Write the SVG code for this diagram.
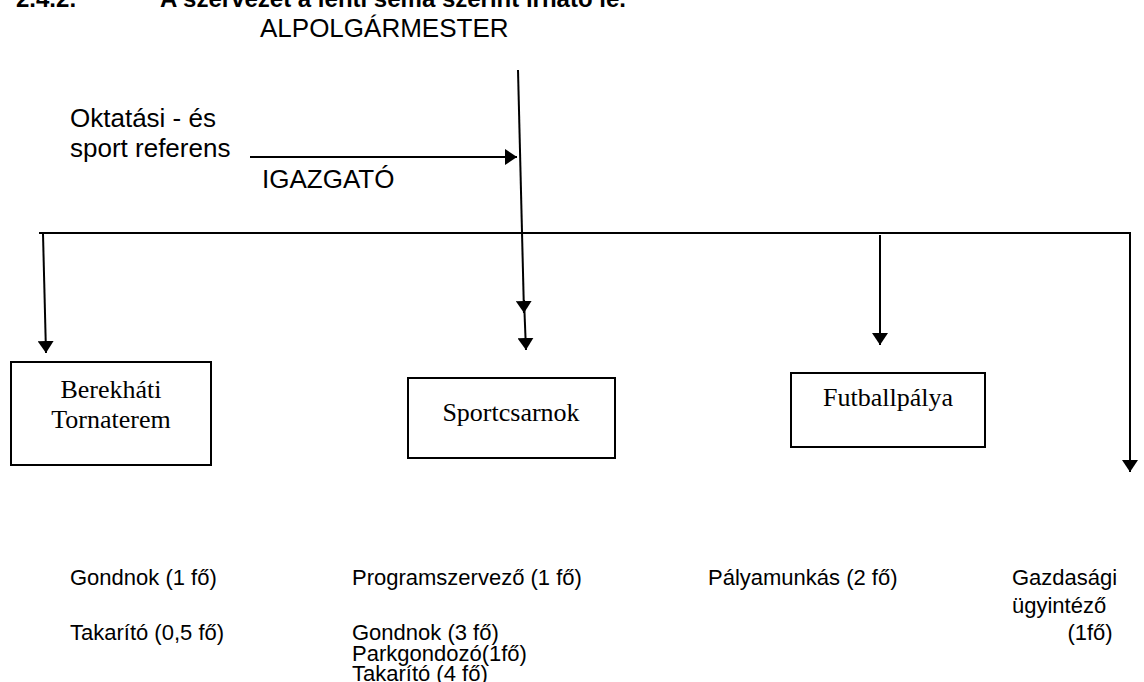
<svg xmlns="http://www.w3.org/2000/svg" width="1144" height="682" viewBox="0 0 1144 682">
<defs>
<marker id="ah" viewBox="0 0 12 16" refX="12" refY="8" markerWidth="12" markerHeight="16" markerUnits="userSpaceOnUse" orient="auto">
<path d="M0,0 L12,8 L0,16 Z" fill="#000"/>
</marker>
</defs>
<style>
.s{font-family:"Liberation Sans",Arial,sans-serif;font-size:26px;fill:#000}
.b{font-family:"Liberation Sans",Arial,sans-serif;font-size:22px;fill:#000}
.t{font-family:"Liberation Serif","Times New Roman",serif;font-size:26px;fill:#000}
.h{font-family:"Liberation Sans",Arial,sans-serif;font-size:24px;font-weight:bold;fill:#000}
.box{fill:#fff;stroke:#000;stroke-width:2}
.ln{stroke:#000;stroke-width:2;fill:none}
</style>
<rect width="1144" height="682" fill="#fff"/>
<text class="h" x="16" y="7">2.4.2.</text>
<text class="h" x="160" y="7">A szervezet a lenti séma szerint írható le.</text>
<g id="connectors">
<line class="ln" x1="518" y1="70" x2="524" y2="313" marker-end="url(#ah)"/>
<line class="ln" x1="524" y1="300" x2="526" y2="350" marker-end="url(#ah)"/>
<line class="ln" x1="250" y1="157" x2="517" y2="157" marker-end="url(#ah)"/>
<line class="ln" x1="39" y1="233" x2="1131" y2="233"/>
<line class="ln" x1="43" y1="234" x2="46" y2="353" marker-end="url(#ah)"/>
<line class="ln" x1="880" y1="235" x2="880" y2="345" marker-end="url(#ah)"/>
<line class="ln" x1="1130" y1="233" x2="1130" y2="472" marker-end="url(#ah)"/>
</g>
<g id="alpolgarmester"><text class="s" x="260" y="37">ALPOLGÁRMESTER</text></g>
<g id="referens"><text class="s" x="70" y="127">Oktatási - és</text><text class="s" x="70" y="157">sport referens</text></g>
<g id="igazgato"><text class="s" x="262" y="188">IGAZGATÓ</text></g>
<g id="berekhati">
<rect class="box" x="11" y="362" width="200" height="103"/>
<text class="t" x="111" y="398" text-anchor="middle">Berekháti</text>
<text class="t" x="111" y="428" text-anchor="middle">Tornaterem</text>
</g>
<g id="sportcsarnok">
<rect class="box" x="408" y="378" width="207" height="80"/>
<text class="t" x="511" y="421" text-anchor="middle">Sportcsarnok</text>
</g>
<g id="futballpalya">
<rect class="box" x="791" y="373" width="194" height="74"/>
<text class="t" x="888" y="406" text-anchor="middle">Futballpálya</text>
</g>
<g id="berekhati-staff"><text class="b" x="70" y="585">Gondnok (1 fő)</text><text class="b" x="70" y="640">Takarító (0,5 fő)</text></g>
<g id="sportcsarnok-staff"><text class="b" x="352" y="585">Programszervező (1 fő)</text><text class="b" x="352" y="640">Gondnok (3 fő)</text><text class="b" x="352" y="661">Parkgondozó(1fő)</text><text class="b" x="352" y="681">Takarító (4 fő)</text></g>
<g id="futball-staff"><text class="b" x="708" y="585">Pályamunkás (2 fő)</text></g>
<g id="gazdasagi"><text class="b" x="1012" y="585">Gazdasági</text><text class="b" x="1012" y="613">ügyintéző</text><text class="b" x="1090" y="640" text-anchor="middle">(1fő)</text></g>
</svg>
